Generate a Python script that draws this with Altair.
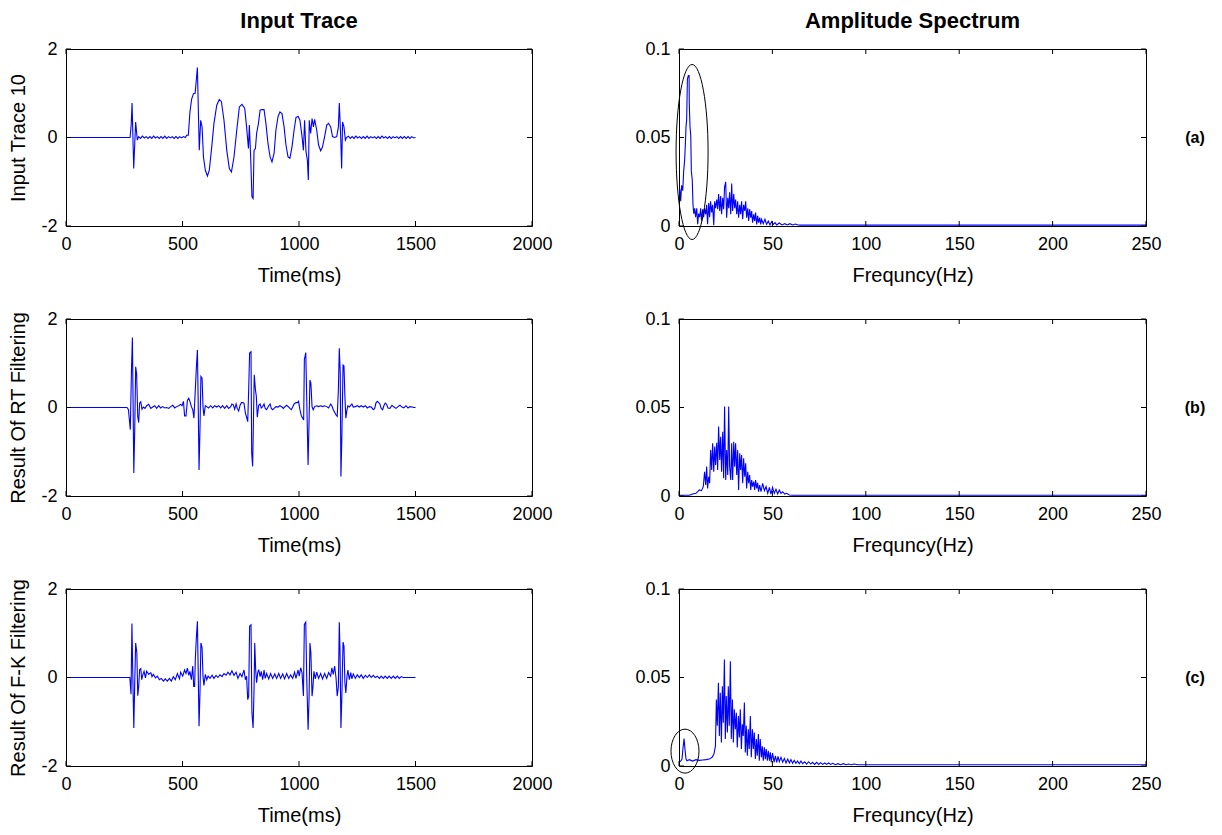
import altair as alt
import pandas as pd

FONT = "Liberation Sans"

# ---------------- data ----------------
TRACE1 = [
    (0, 0), (275, 0), (280, 0.3), (283.5, 0.78), (290.6, -0.70), (299, 0.35), (306, -0.06),
    (312, 0.02), (320, -0.02), (328, 0.03), (336, -0.01), (344, 0.02), (352, -0.02), (360, 0.02),
    (368, -0.02), (376, 0.03), (384, -0.01), (392, 0.02), (400, -0.02), (408, 0.02), (416, -0.02),
    (424, 0.03), (432, -0.02), (440, 0.02), (448, -0.01), (456, 0.02), (464, -0.02), (472, 0.02),
    (480, -0.02), (488, 0.02), (496, -0.01), (504, 0.02), (512, 0.0), (518, 0.05),
    (525, 0.05), (532, 0.58), (539, 0.86), (547, 0.99), (554, 1.0), (558, 1.22), (564, 1.58),
    (568, 0.62), (572, -0.29), (578, 0.39), (584, 0.24), (590, -0.44), (598, -0.74), (607, -0.87),
    (615, -0.74), (624, -0.29), (635, 0.32), (647, 0.73), (658, 0.86), (667, 0.81), (678, 0.39),
    (690, -0.29), (701, -0.70), (710, -0.78), (721, -0.44), (733, 0.17), (744, 0.69), (755, 0.75),
    (767, 0.66), (775, 0.24), (783, -0.25), (787, 0.28), (793, -0.51), (798, -1.34), (803, -1.38),
    (807, -0.29), (813, -0.25), (818, 0.09), (826, 0.32), (833, 0.62), (840, 0.63), (850, 0.63),
    (858, 0.32), (867, -0.14), (876, -0.44), (884, -0.55), (893, -0.36), (901, 0.17), (910, 0.47),
    (918, 0.58), (927, 0.54), (936, 0.24), (944, -0.17), (953, -0.44), (961, -0.47), (970, -0.21),
    (979, 0.17), (987, 0.45), (996, 0.48), (1004, 0.39), (1013, 0.02), (1019, -0.29), (1024, 0.39),
    (1030, -0.32), (1036, -0.51), (1040, -0.96), (1044, 0.39), (1050, 0.09), (1056, 0.43),
    (1062, 0.24), (1067, 0.41), (1076, 0.17), (1084, -0.17), (1093, -0.30), (1101, -0.21),
    (1110, 0.02), (1119, 0.28), (1127, 0.32), (1136, 0.24), (1144, 0.02), (1153, 0.0), (1162, 0.02),
    (1169, 0.24), (1173, 0.78), (1179, 0.02), (1183, -0.70), (1187, 0.35), (1193, 0.24),
    (1199, -0.06), (1204, 0.0),
    (1212, 0.03), (1220, -0.02), (1228, 0.02), (1236, -0.02), (1244, 0.03), (1252, -0.01),
    (1260, 0.02), (1268, -0.02), (1276, 0.02), (1284, -0.02), (1292, 0.03), (1300, -0.02),
    (1308, 0.02), (1316, -0.01), (1324, 0.02), (1332, -0.02), (1340, 0.02), (1348, -0.02),
    (1356, 0.03), (1364, -0.01), (1372, 0.02), (1380, -0.02), (1388, 0.02), (1396, -0.02),
    (1404, 0.02), (1412, -0.01), (1420, 0.02), (1428, -0.02), (1436, 0.02), (1444, -0.02),
    (1452, 0.02), (1460, -0.02), (1468, 0.02), (1476, -0.02), (1484, 0.02), (1492, -0.01), (1500, 0),
]

TRACE2 = [
    (0, 0), (262, 0), (268, -0.05), (272, -0.28), (276, -0.50), (281, 0.85), (285, 1.58),
    (291, -1.48), (295, -0.50), (299, 0.92), (303, 0.77), (308, -0.20), (312, -0.34), (316, 0.10),
    (321, 0.13), (326, -0.04), (332, 0.01), (339, -0.02), (346, 0.04), (355, 0.07), (364, -0.02),
    (372, 0.01), (381, 0.04), (389, -0.02), (398, 0.04), (406, -0.01), (415, 0.02), (424, -0.01),
    (432, 0.0), (441, -0.02), (449, 0.02), (458, 0.05), (467, -0.01), (475, 0.02), (484, 0.04),
    (492, 0.07), (498, 0.04), (504, 0.14), (509, -0.19), (515, -0.19), (521, 0.16), (527, 0.21),
    (532, 0.14), (538, 0.02), (544, -0.05), (549, -0.24), (555, 0.40), (559, 0.85), (564, 1.30),
    (567, 0.25), (571, -1.41), (575, -0.50), (579, 0.70), (584, 0.66), (588, 0.02), (592, -0.19),
    (598, 0.04), (604, 0.02), (612, -0.01), (621, 0.04), (630, -0.01), (638, 0.04), (647, 0.01),
    (655, 0.04), (664, -0.01), (672, 0.04), (681, -0.02), (690, 0.04), (698, -0.02), (707, 0.02),
    (712, 0.08), (718, 0.06), (724, -0.04), (730, 0.08), (735, -0.02), (741, -0.08), (747, 0.05),
    (753, 0.11), (758, 0.11), (764, 0.10), (770, -0.13), (775, -0.22), (780, -0.32), (784, 0.40),
    (788, 1.23), (794, 1.26), (797, -1.03), (801, -1.33), (805, -0.13), (808, 0.74), (813, 0.40),
    (817, 0.25), (821, -0.22), (827, 0.05), (833, 0.08), (838, -0.01), (844, 0.02), (850, 0.08),
    (855, -0.02), (861, -0.05), (870, 0.04), (876, 0.08), (881, -0.02), (887, -0.05), (893, -0.02),
    (901, 0.02), (910, 0.01), (918, 0.04), (927, 0.01), (933, -0.02), (938, 0.01), (947, 0.05),
    (956, 0.01), (961, -0.02), (967, -0.05), (973, 0.01), (979, 0.08), (987, 0.11), (993, 0.11),
    (998, 0.14), (1004, -0.05), (1010, -0.19), (1016, -0.24), (1020, -0.28), (1023, 1.08),
    (1029, 1.24), (1033, 0.25), (1039, -1.30), (1043, -0.35), (1047, 0.62), (1051, 0.55),
    (1056, 0.02), (1061, -0.05), (1067, 0.02), (1076, 0.04), (1084, 0.02), (1093, 0.04),
    (1101, 0.02), (1110, 0.04), (1119, 0.02), (1127, -0.01), (1136, 0.08), (1141, 0.04),
    (1147, -0.05), (1153, -0.11), (1159, -0.17), (1164, -0.20), (1169, 0.40), (1173, 1.34),
    (1177, 0.78), (1180, -1.56), (1184, -0.65), (1189, 0.96), (1193, 0.94), (1197, 0.25),
    (1201, -0.24), (1206, -0.05), (1210, 0.04), (1216, 0.01), (1222, 0.05), (1227, 0.08),
    (1233, 0.01), (1242, 0.02), (1250, 0.04), (1259, 0.01), (1267, 0.04), (1276, 0.01),
    (1285, 0.04), (1293, -0.01), (1302, 0.02), (1310, 0.01), (1319, -0.05), (1325, -0.02),
    (1330, 0.10), (1336, 0.14), (1342, 0.11), (1347, 0.08), (1353, -0.02), (1359, -0.05),
    (1365, 0.05), (1370, 0.10), (1376, 0.07), (1382, -0.01), (1390, -0.02), (1399, 0.05),
    (1408, 0.01), (1416, -0.02), (1425, 0.02), (1433, 0.05), (1442, 0.01), (1450, -0.01),
    (1459, 0.04), (1468, -0.01), (1476, 0.02), (1485, 0.01), (1493, 0.0), (1500, 0),
]

TRACE3 = [
    (0, 0), (274, 0), (279, -0.38), (283, 1.22), (286, 0.26), (291, -1.14), (295, -0.12),
    (299, 0.78), (304, 0.56), (308, -0.41), (312, -0.20), (316, 0.18), (321, 0.20), (325, -0.05),
    (329, 0.05), (335, 0.14), (341, -0.01), (346, 0.14), (355, 0.07), (364, 0.11), (369, 0.02),
    (375, 0.07), (384, -0.01), (392, 0.03), (401, -0.05), (409, -0.02), (418, -0.08), (426, -0.03),
    (435, -0.08), (444, -0.02), (452, -0.08), (461, 0.02), (469, -0.05), (478, 0.09), (487, -0.03),
    (492, 0.12), (501, 0.03), (509, 0.17), (515, 0.09), (521, 0.21), (527, 0.05), (532, 0.14),
    (538, -0.05), (544, 0.26), (548, -0.20), (552, -0.20), (555, 0.41), (559, 0.86), (564, 1.27),
    (567, 0.26), (571, -1.10), (575, -0.35), (579, 0.78), (584, 0.67), (588, 0.03), (592, -0.18),
    (598, 0.07), (604, -0.05), (610, 0.03), (618, -0.02), (627, 0.05), (635, -0.02), (644, 0.05),
    (652, 0.0), (661, 0.06), (670, 0.02), (678, 0.09), (687, 0.05), (695, 0.12), (704, 0.06),
    (712, 0.15), (721, 0.05), (730, 0.12), (738, -0.02), (747, 0.09), (755, 0.02), (764, 0.17),
    (770, -0.05), (775, 0.03), (780, -0.50), (784, -0.42), (788, 1.16), (794, 1.19), (798, -0.80),
    (803, -1.14), (807, -0.27), (810, 0.78), (814, 0.18), (818, -0.12), (823, 0.11), (827, 0.18),
    (833, 0.02), (838, 0.14), (844, -0.05), (850, 0.17), (855, -0.02), (861, 0.09), (870, -0.03),
    (878, 0.09), (887, -0.02), (896, 0.08), (904, -0.02), (913, 0.09), (921, -0.02), (930, 0.08),
    (938, -0.03), (947, 0.09), (956, -0.02), (964, 0.06), (973, -0.02), (981, 0.12), (987, -0.02),
    (996, 0.17), (1001, 0.03), (1007, 0.22), (1013, 0.11), (1019, -0.42), (1023, 1.20),
    (1029, 1.25), (1033, 0.03), (1039, -1.18), (1043, -0.50), (1047, 0.78), (1051, 0.56),
    (1056, -0.42), (1060, -0.20), (1064, 0.14), (1070, -0.03), (1076, 0.12), (1084, -0.02),
    (1093, 0.09), (1101, -0.03), (1110, 0.09), (1119, -0.02), (1127, 0.11), (1136, 0.03),
    (1141, 0.22), (1147, 0.07), (1153, 0.26), (1159, -0.01), (1164, -0.42), (1169, -0.20),
    (1173, 1.25), (1176, 0.63), (1180, -1.14), (1184, -0.42), (1189, 0.80), (1193, 0.71),
    (1197, -0.12), (1201, -0.35), (1206, 0.03), (1210, 0.17), (1216, -0.05), (1222, 0.11),
    (1227, -0.03), (1233, 0.08), (1242, -0.02), (1250, 0.06), (1259, 0.0), (1267, 0.06),
    (1276, -0.02), (1285, 0.05), (1293, 0.0), (1302, 0.06), (1310, 0.0), (1319, 0.05), (1327, 0.0),
    (1336, 0.03), (1345, -0.02), (1353, 0.03), (1362, -0.02), (1370, 0.03), (1379, -0.02),
    (1387, 0.03), (1396, -0.02), (1405, 0.03), (1413, -0.02), (1422, 0.03), (1430, -0.02),
    (1439, 0.02), (1447, 0.0), (1500, 0),
]

SPEC1 = [
    (0, 0.019), (0.5, 0.020), (0.9, 0.014), (1.4, 0.023), (2.0, 0.020), (2.5, 0.031), (3.0, 0.037),
    (3.4, 0.046), (3.75, 0.056), (4.1, 0.060), (4.5, 0.083), (5.0, 0.085), (5.4, 0.085),
    (5.5, 0.069), (5.9, 0.056), (6.3, 0.051), (6.6, 0.031), (7.1, 0.026), (7.5, 0.012), (7.9, 0.007),
    (8.4, 0.010), (8.9, 0.005), (9.5, 0.010), (10.0, 0.001), (10.5, 0.007), (11.1, 0.005),
    (11.6, 0.010), (12.1, 0.003), (12.7, 0.0095), (13.2, 0.005), (13.7, 0.010), (14.3, 0.0066),
    (14.8, 0.012), (15.3, 0.001), (15.9, 0.013), (16.4, 0.005), (16.9, 0.014), (17.5, 0.0076),
    (18.0, 0.012), (18.6, 0.0005), (19.1, 0.014), (19.6, 0.010), (20.2, 0.015), (20.7, 0.0095),
    (21.2, 0.018), (21.8, 0.0085), (22.3, 0.017), (22.8, 0.0066), (23.4, 0.016), (23.9, 0.0095),
    (24.4, 0.022), (25.0, 0.025), (25.5, 0.0047), (26.1, 0.016), (26.6, 0.010), (27.1, 0.019),
    (27.7, 0.0066), (28.2, 0.024), (28.7, 0.0085), (29.3, 0.018), (29.8, 0.010), (30.3, 0.015),
    (30.9, 0.0066), (31.4, 0.014), (31.9, 0.0047), (32.5, 0.012), (33.0, 0.0066), (33.5, 0.014),
    (34.1, 0.0038), (34.6, 0.012), (35.2, 0.0085), (35.7, 0.014), (36.2, 0.0047), (36.8, 0.010),
    (37.3, 0.0028), (37.8, 0.0095), (38.4, 0.0047), (38.9, 0.0085), (39.4, 0.0019), (40.0, 0.0066),
    (40.5, 0.0028), (41.0, 0.0076), (41.6, 0.0009), (42.1, 0.0057), (42.6, 0.0019), (43.2, 0.0047),
    (43.7, 0.0009), (44.2, 0.0038), (45.1, 0.0013), (46.0, 0.0038), (46.9, 0.0009), (47.8, 0.0028),
    (48.7, 0.0006), (49.6, 0.0025), (50.5, 0.0009), (51.4, 0.0019), (52.3, 0.0006), (53.7, 0.0017),
    (55.1, 0.0006), (56.6, 0.0013), (58.0, 0.0006), (59.4, 0.0013), (60.8, 0.0006), (62.3, 0.0011),
    (63.7, 0.0006), (65.3, 0.0005), (250, 0.0005),
]

SPEC2 = [
    (0, 0.0004), (5.5, 0.0004), (7.3, 0.0011), (9.1, 0.0015), (10.9, 0.0034), (12.0, 0.003),
    (13.0, 0.0053), (13.7, 0.0137), (14.3, 0.0062), (14.8, 0.0166), (15.3, 0.0043), (15.9, 0.0109),
    (16.4, 0.0072), (16.95, 0.026), (17.5, 0.0147), (18.0, 0.0298), (18.6, 0.0137), (19.1, 0.0279),
    (19.6, 0.0175), (20.2, 0.0301), (20.7, 0.0147), (21.2, 0.0392), (21.8, 0.0203), (22.3, 0.0335),
    (22.8, 0.0137), (23.4, 0.0363), (23.9, 0.010), (24.4, 0.0505), (25.0, 0.009), (25.5, 0.026),
    (26.1, 0.0119), (26.6, 0.0505), (27.1, 0.0166), (27.7, 0.009), (28.2, 0.0298), (28.7, 0.009),
    (29.3, 0.0307), (29.8, 0.0166), (30.3, 0.0298), (30.9, 0.0119), (31.4, 0.026), (31.9, 0.0034),
    (32.5, 0.0241), (33.0, 0.0147), (33.5, 0.0232), (34.1, 0.0072), (34.6, 0.0213), (35.2, 0.0109),
    (35.7, 0.0185), (36.2, 0.0043), (36.8, 0.0137), (37.3, 0.0072), (37.8, 0.0119), (38.4, 0.0034),
    (38.9, 0.009), (39.4, 0.0053), (40.0, 0.0081), (40.5, 0.0034), (41.0, 0.009), (41.6, 0.0043),
    (42.1, 0.0075), (42.6, 0.0024), (43.2, 0.0062), (43.9, 0.0024), (44.8, 0.0072), (45.7, 0.003),
    (46.6, 0.0053), (47.5, 0.0015), (48.4, 0.0049), (49.2, 0.0011), (50.1, 0.0049), (51.0, 0.0015),
    (51.9, 0.0038), (52.8, 0.0011), (53.7, 0.0034), (54.6, 0.0015), (55.5, 0.0024), (56.6, 0.0011),
    (57.6, 0.0015), (59.1, 0.0006), (60.8, 0.0004), (250, 0.0004),
]

SPEC3 = [
    (0, 0.0021), (1.1, 0.003), (1.6, 0.0039), (2.1, 0.0096), (2.7, 0.0155), (3.2, 0.0096),
    (3.75, 0.0039), (4.3, 0.003), (5.5, 0.0036), (7.3, 0.0028), (9.1, 0.0036), (10.9, 0.0032),
    (12.7, 0.0034), (14.5, 0.0036), (16.2, 0.0039), (17.7, 0.0049), (18.7, 0.0067), (19.5, 0.0112),
    (20.0, 0.0376), (20.5, 0.0227), (21.1, 0.047), (21.6, 0.017), (22.1, 0.0414), (22.7, 0.0133),
    (23.2, 0.0451), (23.7, 0.0245), (24.3, 0.0601), (24.8, 0.0152), (25.3, 0.0395), (25.9, 0.0189),
    (26.4, 0.0451), (26.9, 0.0227), (27.5, 0.0592), (28.0, 0.0152), (28.6, 0.0376), (29.1, 0.0133),
    (29.6, 0.032), (30.2, 0.0208), (30.7, 0.0301), (31.2, 0.0105), (31.8, 0.0283), (32.3, 0.0161),
    (32.8, 0.032), (33.4, 0.0096), (33.9, 0.0236), (34.4, 0.017), (35.0, 0.0358), (35.5, 0.0077),
    (36.0, 0.0227), (36.6, 0.0058), (37.1, 0.0208), (37.6, 0.0096), (38.2, 0.0283), (38.7, 0.0049),
    (39.3, 0.0208), (39.8, 0.0096), (40.3, 0.0189), (40.9, 0.0039), (41.4, 0.0152), (41.9, 0.0058),
    (42.5, 0.018), (43.0, 0.003), (43.5, 0.0152), (44.1, 0.0049), (44.6, 0.0112), (45.1, 0.003),
    (45.7, 0.0105), (46.2, 0.0039), (46.7, 0.0096), (47.3, 0.003), (47.8, 0.0086), (48.4, 0.003),
    (48.9, 0.0077), (49.4, 0.0021), (50.1, 0.0073), (50.9, 0.0021), (51.6, 0.0058), (52.3, 0.0021),
    (53.0, 0.0054), (53.7, 0.0024), (54.6, 0.0049), (55.5, 0.0021), (56.4, 0.0043), (57.3, 0.0017),
    (58.2, 0.0039), (59.1, 0.0017), (59.9, 0.0036), (60.8, 0.0015), (61.7, 0.0032), (62.6, 0.0015),
    (63.5, 0.0028), (64.4, 0.0013), (65.3, 0.0028), (66.2, 0.0013), (67.3, 0.0024), (68.3, 0.0011),
    (69.4, 0.0024), (70.5, 0.0011), (71.5, 0.0021), (72.6, 0.0009), (73.7, 0.0021), (74.8, 0.0009),
    (75.8, 0.0019), (76.9, 0.0009), (78.0, 0.0017), (79.0, 0.0009), (80.1, 0.0017), (81.2, 0.0009),
    (82.3, 0.0015), (83.7, 0.0007), (85.1, 0.0013), (86.5, 0.0007), (88.0, 0.0013), (89.4, 0.0007),
    (90.8, 0.0011), (92.2, 0.0007), (93.7, 0.0011), (95.6, 0.0007), (250, 0.0007),
]

TIME_TICKS = [0, 500, 1000, 1500, 2000]
FREQ_TICKS = [0, 50, 100, 150, 200, 250]
TRACE_YTICKS = [-2, 0, 2]
SPEC_YTICKS = [0, 0.05, 0.1]

ROW_YTITLES = ["Input Trace 10", "Result Of RT Filtering", "Result Of F-K Filtering"]
ROW_TAGS = ["(a)", "(b)", "(c)"]
COL_TITLES = ["Input Trace", "Amplitude Spectrum"]

# ellipse annotations (centre in data units)
ELLIPSE_A = {"x": [7.0], "y": [0.0418]}
ELLIPSE_C = {"x": [3.2], "y": [0.0084]}

W_L, W_R, H = 466, 467, 177
LABEL_SIZE = 18
TITLE_SIZE = 20
TICK = 5


def ellipse_path(a):
    k = 0.5523
    return (f"M{a},0C{a},{k} {a*k},1 0,1C{-a*k},1 {-a},{k} {-a},0"
            f"C{-a},{-k} {-a*k},-1 0,-1C{a*k},-1 {a},{-k} {a},0Z")


def panel(points, xdom, xticks, ydom, yticks, xtitle, ytitle, width,
          title=None, tag=None, ellipse=None):
    df = pd.DataFrame(points, columns=["x", "y"])
    xs = alt.Scale(domain=xdom, nice=False, zero=False)
    ys = alt.Scale(domain=ydom, nice=False, zero=False)
    xax = alt.Axis(values=xticks, title=xtitle, labelExpr="'' + datum.value",
                   ticks=False, domain=False, grid=False, labelPadding=9,
                   titlePadding=12, labelFlush=False)
    yax_kw = dict(values=yticks, labelExpr="'' + datum.value", ticks=False,
                  domain=False, grid=False, labelPadding=9, titlePadding=12)
    yax = alt.Axis(title=ytitle, **yax_kw) if ytitle else alt.Axis(title=None, **yax_kw)
    X = alt.X("x:Q", scale=xs, axis=xax)
    Y = alt.Y("y:Q", scale=ys, axis=yax)
    line = alt.Chart(df).mark_line(color="#0000ff", strokeWidth=1.1, clip=True).encode(x=X, y=Y)
    xt = pd.DataFrame({"x": xticks})
    yt = pd.DataFrame({"y": yticks})
    rule = dict(color="black", strokeWidth=1)
    bt = alt.Chart(xt).mark_rule(**rule).encode(x=X, y=alt.value(H), y2=alt.value(H - TICK))
    tt = alt.Chart(xt).mark_rule(**rule).encode(x=X, y=alt.value(0), y2=alt.value(TICK))
    lt = alt.Chart(yt).mark_rule(**rule).encode(y=Y, x=alt.value(0), x2=alt.value(TICK))
    rt = alt.Chart(yt).mark_rule(**rule).encode(y=Y, x=alt.value(width), x2=alt.value(width - TICK))
    layers = [line, bt, tt, lt, rt]
    if ellipse is not None:
        edf, a, size = ellipse
        layers.append(
            alt.Chart(pd.DataFrame(edf)).mark_point(
                shape=ellipse_path(a), size=size, filled=False, stroke="black",
                strokeWidth=1, opacity=1, clip=False).encode(x=X, y=Y))
    if tag is not None:
        layers.append(
            alt.Chart(pd.DataFrame({"t": [tag]})).mark_text(
                font=FONT, fontSize=16, fontWeight="bold", align="center",
                baseline="middle", color="black").encode(
                text="t:N", x=alt.value(width + 49), y=alt.value(H / 2)))
    ch = alt.layer(*layers)
    props = dict(width=width, height=H)
    if title is not None:
        props["title"] = alt.TitleParams(title, font=FONT, fontSize=22, fontWeight="bold",
                                         anchor="middle", offset=7, color="black")
    return ch.properties(**props)


traces = [TRACE1, TRACE2, TRACE3]
specs = [SPEC1, SPEC2, SPEC3]
ellipses = [(ELLIPSE_A, 16 / 87.5, 175 ** 2), None, (ELLIPSE_C, 14 / 22, 44 ** 2)]

cells = []
for i in range(3):
    cells.append(panel(traces[i], [0, 2000], TIME_TICKS, [-2, 2], TRACE_YTICKS, "Time(ms)",
                       ROW_YTITLES[i], W_L, title=COL_TITLES[0] if i == 0 else None))
    cells.append(panel(specs[i], [0, 250], FREQ_TICKS, [0, 0.1], SPEC_YTICKS, "Frequncy(Hz)",
                       None, W_R, title=COL_TITLES[1] if i == 0 else None, tag=ROW_TAGS[i],
                       ellipse=ellipses[i]))

chart = alt.concat(*cells, columns=2, spacing={"row": 93, "column": 147},
                   bounds="flush").properties(
    padding={"left": 8, "top": 9, "right": 5, "bottom": 5},
    background="white",
).configure_view(stroke="black", strokeWidth=1).configure_axis(
    labelFont=FONT, labelFontSize=LABEL_SIZE, labelColor="black",
    titleFont=FONT, titleFontSize=TITLE_SIZE, titleColor="black", titleFontWeight="normal",
)

chart.save("out.html", embed_options={"renderer": "svg", "actions": False})
